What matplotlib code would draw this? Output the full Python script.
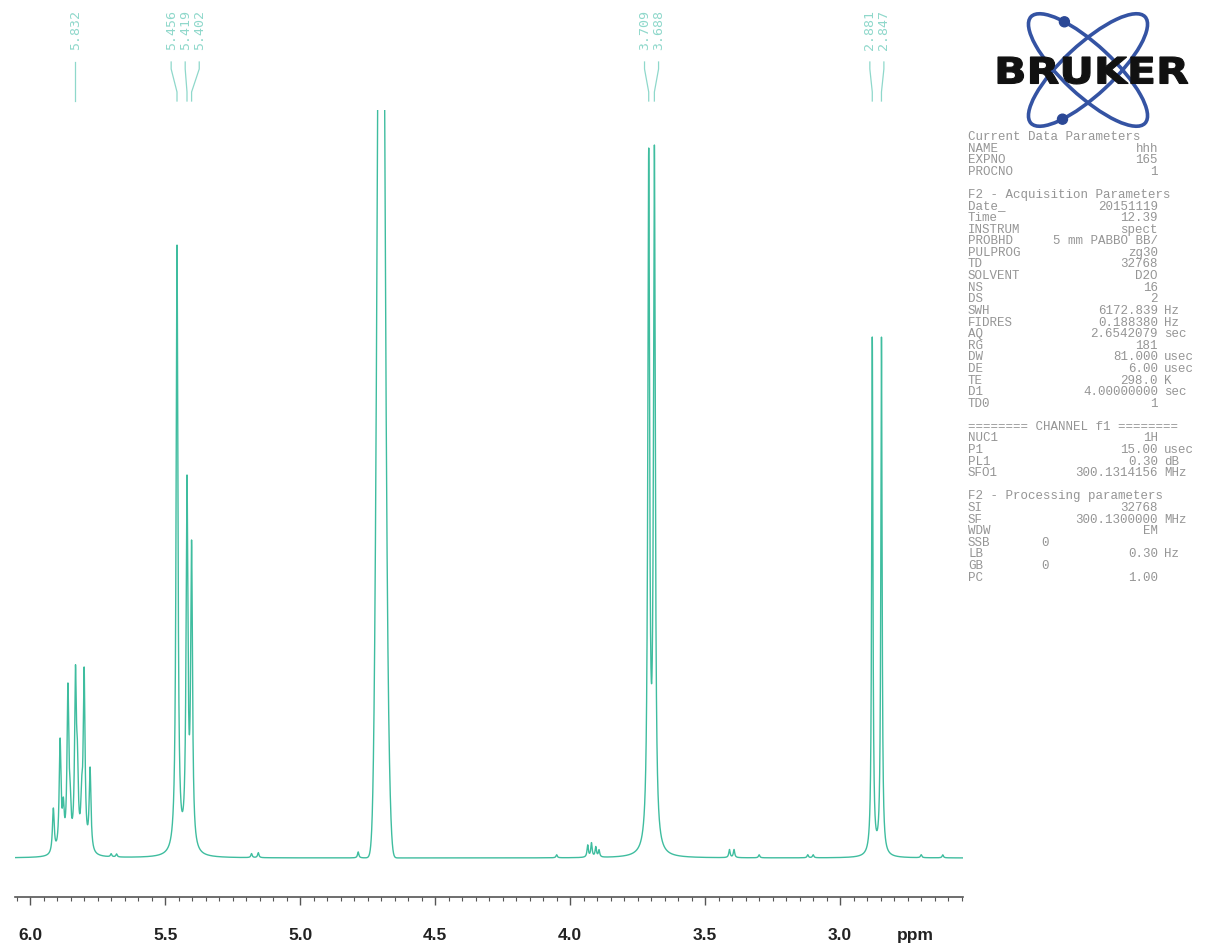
import numpy as np
import matplotlib
matplotlib.use("Agg")
import matplotlib.pyplot as plt
from matplotlib.patches import Ellipse, Circle, PathPatch
from matplotlib.textpath import TextPath
from matplotlib.font_manager import FontProperties
from matplotlib.transforms import Affine2D, blended_transform_factory
from matplotlib.ticker import MultipleLocator, FormatStrFormatter

# ---------------------------------------------------------------- data
# picked resonances (ppm) with their observed peak heights
labelled_ppm = [5.832, 5.456, 5.419, 5.402, 3.709, 3.688, 2.881, 2.847]
labelled_height = [193, 613, 383, 318, 710, 713, 521, 521]
labelled_hw = [0.004, 0.004, 0.004, 0.004, 0.004, 0.004, 0.0028, 0.0028]

# remaining lines of the 5.91-5.78 ppm multiplet
multiplet_ppm = [5.914, 5.889, 5.877, 5.860, 5.852, 5.825, 5.809, 5.800, 5.778]
multiplet_height = [50, 120, 61, 175, 78, 118, 81, 191, 91]

# weak signals on the baseline
minor_ppm = [5.70, 5.68, 5.18, 5.155, 4.785, 4.05, 3.935, 3.921, 3.905,
             3.893, 3.41, 3.393, 3.30, 3.12, 3.10, 2.70, 2.62]
minor_amp = [3, 3, 4, 5, 6, 3, 12, 14, 10, 7, 8, 8, 3, 3, 3, 3, 3]

# residual HOD line (Gaussian) and its shoulder
solvent_ppm = [4.700, 4.672]
solvent_amp = [1260, 35]
solvent_sigma = [0.0127, 0.008]

# peak-label groups
label_groups = [[5.832], [5.456, 5.419, 5.402], [3.709, 3.688], [2.881, 2.847]]

x_ticks = [6.0, 5.5, 5.0, 4.5, 4.0, 3.5, 3.0]
ppm_left, ppm_right = 6.056, 2.545

# acquisition / processing parameter block
header_params = [("NAME", "hhh", ""), ("EXPNO", "165", ""), ("PROCNO", "1", "")]
acq_params = [("Date_", "20151119", ""), ("Time", "12.39", ""),
              ("INSTRUM", "spect", ""), ("PROBHD", "5 mm PABBO BB/", ""),
              ("PULPROG", "zg30", ""), ("TD", "32768", ""),
              ("SOLVENT", "D2O", ""), ("NS", "16", ""), ("DS", "2", ""),
              ("SWH", "6172.839", "Hz"), ("FIDRES", "0.188380", "Hz"),
              ("AQ", "2.6542079", "sec"), ("RG", "181", ""),
              ("DW", "81.000", "usec"), ("DE", "6.00", "usec"),
              ("TE", "298.0", "K"), ("D1", "4.00000000", "sec"),
              ("TD0", "1", "")]
chan_params = [("NUC1", "1H", ""), ("P1", "15.00", "usec"),
               ("PL1", "0.30", "dB"), ("SFO1", "300.1314156", "MHz")]
proc_params = [("SI", "32768", ""), ("SF", "300.1300000", "MHz"),
               ("WDW", "EM", ""), ("SSB", "0", ""), ("LB", "0.30", "Hz"),
               ("GB", "0", ""), ("PC", "1.00", "")]

# ---------------------------------------------------------------- figure
W, H = 1209, 951
fig = plt.figure(figsize=(W / 100, H / 100), dpi=100)
fig.patch.set_facecolor("white")


def fx(x):
    return x / W


def fy(y):
    return 1 - y / H


LINE = "#3fbd9f"
LABEL = "#8fd8cb"


def lorentz(x, x0, hw):
    return 1.0 / (1 + ((x - x0) / hw) ** 2)


# resolved lines: solve for amplitudes so that each maximum has its observed height
sharp_ppm = np.array(labelled_ppm + multiplet_ppm)
sharp_h = np.array(labelled_height + multiplet_height, dtype=float)
sharp_hw = np.array(labelled_hw + [0.004] * len(multiplet_ppm))
M = np.array([[lorentz(pi, pj, wj) for pj, wj in zip(sharp_ppm, sharp_hw)]
              for pi in sharp_ppm])
sharp_amp = np.clip(np.linalg.solve(M, sharp_h), 5, None)

ppm = np.linspace(ppm_left, ppm_right, 30000)
spec = np.zeros_like(ppm)
for p, a, w in zip(sharp_ppm, sharp_amp, sharp_hw):
    spec += a * lorentz(ppm, p, w)
for p, a in zip(minor_ppm, minor_amp):
    spec += a * lorentz(ppm, p, 0.003)
for p, a, s in zip(solvent_ppm, solvent_amp, solvent_sigma):
    spec += a * np.exp(-0.5 * ((ppm - p) / s) ** 2)

# spectrum axes
ax = fig.add_axes([fx(15), fy(897), fx(963) - fx(15), fy(110) - fy(897)])
ax.plot(ppm, spec, color=LINE, lw=1.0)
ax.set_xlim(ppm_left, ppm_right)
ax.set_ylim(-39, 748)
for s in ("top", "left", "right"):
    ax.spines[s].set_visible(False)
ax.spines["bottom"].set_color("#555555")
ax.spines["bottom"].set_linewidth(1.2)
ax.set_yticks([])
ax.set_xticks(x_ticks)
ax.xaxis.set_minor_locator(MultipleLocator(0.05))
ax.xaxis.set_major_formatter(FormatStrFormatter("%.1f"))
ax.tick_params(axis="x", which="major", length=6, width=1.0, color="#555555",
               pad=16, labelsize=12.5, labelcolor="#222222")
ax.tick_params(axis="x", which="minor", length=3, width=0.8, color="#555555")
for lab in ax.get_xticklabels():
    lab.set_fontweight("bold")
    lab.set_family("Liberation Sans")
ax.annotate("ppm", xy=(2.722, 0), xycoords=ax.get_xaxis_transform(),
            xytext=(0, -(6 + 16)), textcoords="offset points", ha="center",
            va="top", fontsize=12.5, fontweight="bold", family="Liberation Sans",
            color="#222222")

# peak labels with leader lines
trans = blended_transform_factory(ax.transData, fig.transFigure)
spacing = 0.052
for grp in label_groups:
    n = len(grp)
    centre = np.mean(grp)
    for i, p in enumerate(grp):
        lx = centre + ((n - 1) / 2 - i) * spacing
        fig.text(lx, fy(10), f"{p:.3f}", transform=trans, rotation=90,
                 ha="center", va="top", fontsize=9.5, family="DejaVu Sans Mono",
                 color=LABEL)
        ax.plot([lx, lx, p, p], [fy(62), fy(69), fy(92), fy(101)],
                transform=trans, color=LABEL, lw=0.9, clip_on=False)

# ---------------------------------------------------------------- logo
lax = fig.add_axes([fx(960), fy(135), fx(249), 135 / H])
lax.set_xlim(960, 1209)
lax.set_ylim(135, 0)
lax.axis("off")
BLUE = "#3453a3"
cx, cy, a_semi, b_semi = 1088, 70, 78, 25
for ang in (43, -43):
    lax.add_patch(Ellipse((cx, cy), 2 * a_semi, 2 * b_semi, angle=ang,
                          fill=False, edgecolor=BLUE, lw=2.6))
for ang, t in ((43, 230), (-43, 132)):
    th, tt = np.radians(ang), np.radians(t)
    ex, ey = a_semi * np.cos(tt), b_semi * np.sin(tt)
    px = cx + ex * np.cos(th) - ey * np.sin(th)
    py = cy + ex * np.sin(th) + ey * np.cos(th)
    lax.add_patch(Circle((px, py), 5, color="#2b4896"))
tp = TextPath((0, 0), "BRUKER", size=1,
              prop=FontProperties(family="DejaVu Sans", weight="bold"))
bb = tp.get_extents()
sx, sy = 190 / bb.width, 27 / bb.height
tr = Affine2D().scale(sx, -sy).translate(998 - sx * bb.x0, 57 + sy * bb.y1)
lax.add_patch(PathPatch(tr.transform_path(tp), facecolor="#111111",
                        edgecolor="#111111", lw=0.8))

# ---------------------------------------------------------------- parameters
TXT = "#959595"
mono = dict(family="Liberation Mono", fontsize=9.0, color=TXT, va="center")
x_name, x_val, x_unit, x_short = 968, 1158, 1164, 1045
y = 137.0
step, gap = 11.6, 11.5


def put(s, x, yy, ha="left"):
    fig.text(fx(x), fy(yy), s, ha=ha, **mono)


def block(title, rows, yy):
    if title:
        put(title, x_name, yy)
        yy += step
    for name, val, unit in rows:
        put(name, x_name, yy)
        if name in ("SSB", "GB"):
            put(val, x_short, yy, ha="center")
        else:
            put(val, x_val, yy, ha="right")
        if unit:
            put(unit, x_unit, yy)
        yy += step
    return yy + gap


y = block("Current Data Parameters", header_params, y)
y = block("F2 - Acquisition Parameters", acq_params, y)
y = block("======== CHANNEL f1 ========", chan_params, y)
y = block("F2 - Processing parameters", proc_params, y)

fig.savefig("out.png", dpi=100, facecolor="white")
